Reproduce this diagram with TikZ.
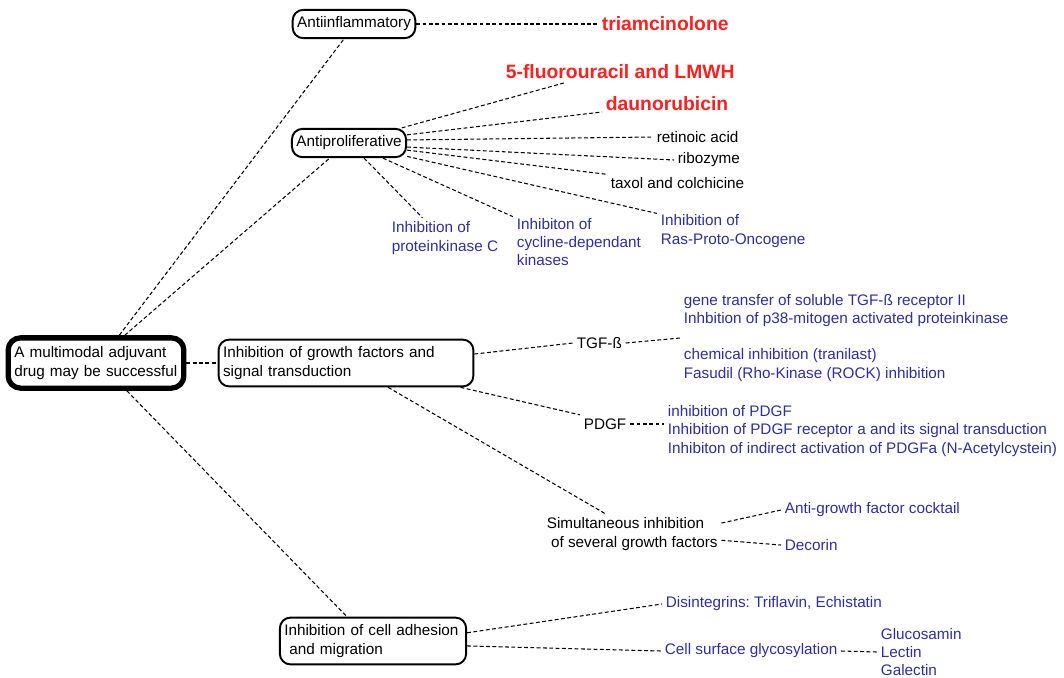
\documentclass[tikz,border=0pt]{standalone}
\usepackage{fontspec}
\setmainfont{Liberation Sans}
\frenchspacing
\definecolor{drugred}{HTML}{FF2020}
\definecolor{targetblue}{HTML}{2E2E9E}

\tikzset{
  mapbox/.style={draw, rounded corners=6pt, line width=1.1pt, align=left, inner xsep=2.5pt, inner ysep=4pt},
  rootbox/.style={mapbox, line width=3pt, rounded corners=7pt, inner xsep=3.5pt, inner ysep=5pt},
  leaf/.style={anchor=west, align=left, inner sep=2pt},
  drug/.style={leaf, text=drugred, font=\fontsize{11}{13}\selectfont\bfseries},
  target/.style={leaf, text=targetblue},
  link/.style={line width=0.6pt, dash pattern=on 2.2pt off 1.4pt}
}

\begin{document}
\begin{tikzpicture}[x=0.02cm, y=-0.02cm, font=\fontsize{8.7}{10.5}\selectfont]
  \useasboundingbox (0,0) rectangle (1064,677);

  % Main boxes
  \node[rootbox, text width=93pt] (root) at (96,363) {A multimodal adjuvant\\drug may be successful};
  \node[mapbox] (antiinflam) at (354,24) {Antiinflammatory};
  \node[mapbox] (antiprolif) at (349,143) {Antiproliferative};
  \node[mapbox, text width=140pt] (growth) at (346,363) {Inhibition of growth factors and\\signal transduction};
  \node[mapbox, text width=101pt] (adhesion) at (373,641) {Inhibition of cell adhesion\\~and migration};

  % Antiinflammatory
  \node[drug] (triam) at (598,24) {triamcinolone};

  % Antiproliferative
  \node[drug] (fluoro) at (502,72) {5-fluorouracil and LMWH};
  \node[drug] (dauno) at (602,104) {daunorubicin};
  \node[leaf] (retinoic) at (653,137) {retinoic acid};
  \node[leaf] (ribozyme) at (674,160) {ribozyme};
  \node[leaf] (taxol) at (607,183) {taxol and colchicine};
  \node[target] (pkc) at (388,238) {Inhibition of\\proteinkinase C};
  \node[target] (cdk) at (513,242) {Inhibiton of\\cycline-dependant\\kinases};
  \node[target] (ras) at (657,231) {Inhibition of\\Ras-Proto-Oncogene};

  % Growth factors
  \node[leaf] (tgf) at (573,343) {TGF-ß};
  \node[target] (tgfopts) at (680,338) {gene transfer of soluble TGF-ß receptor II\\Inhbition of p38-mitogen activated proteinkinase\\[10pt]chemical inhibition (tranilast)\\Fasudil (Rho-Kinase (ROCK) inhibition};
  \node[leaf] (pdgf) at (580,424) {PDGF};
  \node[target] (pdgfopts) at (664,431) {inhibition of PDGF\\Inhibition of PDGF receptor a and its signal transduction\\Inhibiton of indirect activation of PDGFa (N-Acetylcystein)};
  \node[leaf] (simult) at (543,534) {Simultaneous inhibition\\~of several growth factors};
  \node[target] (cocktail) at (781,510) {Anti-growth factor cocktail};
  \node[target] (decorin) at (781,545) {Decorin};

  % Cell adhesion
  \node[target] (disint) at (662,604) {Disintegrins: Triflavin, Echistatin};
  \node[target] (glyco) at (661,651) {Cell surface glycosylation};
  \node[target] (glycoopts) at (877,652) {Glucosamin\\Lectin\\Galectin};

  % Links from the root
  \draw[link] (root.50) -- (antiinflam.236);
  \draw[link] (root.44) -- (antiprolif.218);
  \draw[link] (root.east) -- (growth.west);
  \draw[link] (root.-42) -- (adhesion.137);

  % Links to drugs and targets
  \draw[link] (antiinflam.east) -- (triam.west);
  \draw[link] (antiprolif.16) -- (fluoro.191);
  \draw[link] (antiprolif.8) -- (dauno.187);
  \draw[link] (antiprolif.3) -- (retinoic.west);
  \draw[link] (antiprolif.-4) -- (ribozyme.west);
  \draw[link] (antiprolif.-7) -- (taxol.173);
  \draw[link] (antiprolif.-13) -- (ras.167);
  \draw[link] (antiprolif.-24) -- (cdk.159);
  \draw[link] (antiprolif.-45) -- (pkc.138);

  \draw[link] (growth.4) -- (tgf.west);
  \draw[link] (tgf.east) -- (tgfopts.west);
  \draw[link] (growth.-12) -- (pdgf.160);
  \draw[link] (pdgf.east) -- (pdgf.east -| pdgfopts.west);
  \draw[link] (growth.-30) -- (simult.143);
  \draw[link] (simult.7) -- (cocktail.west);
  \draw[link] (simult.-4) -- (decorin.west);

  \draw[link] (adhesion.5) -- (disint.west);
  \draw[link] (adhesion.-3) -- (glyco.west);
  \draw[link] (glyco.east) -- (glycoopts.west);
\end{tikzpicture}
\end{document}
